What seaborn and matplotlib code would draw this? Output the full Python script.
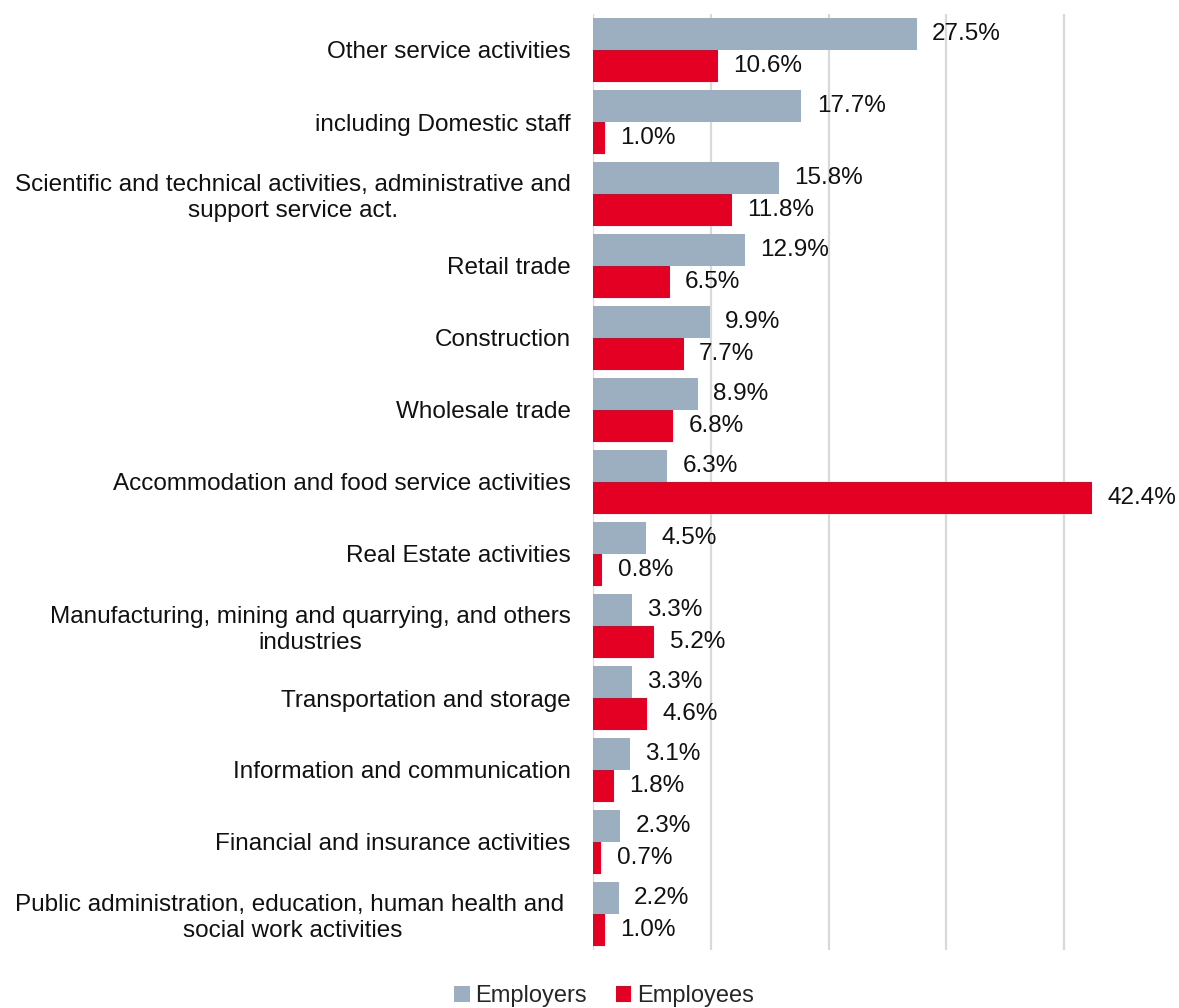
import matplotlib
matplotlib.use("Agg")
import matplotlib.pyplot as plt
from matplotlib.patches import Patch
import pandas as pd
import seaborn as sns

sectors = [
    "Other service activities",
    "including Domestic staff",
    "Scientific and technical activities, administrative and\nsupport service act.",
    "Retail trade",
    "Construction",
    "Wholesale trade",
    "Accommodation and food service activities",
    "Real Estate activities",
    "Manufacturing, mining and quarrying, and others\nindustries",
    "Transportation and storage",
    "Information and communication",
    "Financial and insurance activities",
    "Public administration, education, human health and \nsocial work activities",
]
employers = [27.5, 17.7, 15.8, 12.9, 9.9, 8.9, 6.3, 4.5, 3.3, 3.3, 3.1, 2.3, 2.2]
employees = [10.6, 1.0, 11.8, 6.5, 7.7, 6.8, 42.4, 0.8, 5.2, 4.6, 1.8, 0.7, 1.0]
series = ["Employers", "Employees"]
colors = ["#9BAFC1", "#E30022"]

df = pd.DataFrame({
    "sector": sectors * 2,
    "share": employers + employees,
    "group": [series[0]] * len(sectors) + [series[1]] * len(sectors),
})

sns.set_theme(style="white")
plt.rcParams["font.family"] = ["Liberation Sans", "DejaVu Sans"]

W, H = 1179, 1008
fig = plt.figure(figsize=(W / 100, H / 100), dpi=100)
ax = fig.add_axes([593 / W, (H - 950) / H, (W - 593) / W, 936 / H])

sns.barplot(data=df, y="sector", x="share", hue="group", orient="h",
            palette=colors, hue_order=series, order=sectors,
            width=0.88, saturation=1, legend=False, ax=ax, zorder=2,
            edgecolor="none")

ax.set_xlim(0, 49.75)
ax.set_ylim(len(sectors) - 0.5, -0.5)
ax.set_xticks([0, 10, 20, 30, 40])
ax.xaxis.grid(True, color="#D9D9D9", linewidth=1.6, zorder=0)
ax.set_axisbelow(True)
ax.tick_params(axis="x", bottom=False, labelbottom=False)
ax.tick_params(axis="y", left=False, length=0, pad=16, labelsize=17.5,
               labelcolor="#111111")
for lbl in ax.get_yticklabels():
    lbl.set_multialignment("center")
ax.set_xlabel("")
ax.set_ylabel("")
for s in ax.spines.values():
    s.set_visible(False)

for cont in ax.containers:
    ax.bar_label(cont, labels=[f"{v:.1f}%" for v in cont.datavalues],
                 padding=11, fontsize=17.5, color="#111111", clip_on=False)

handles = [Patch(facecolor=c, edgecolor="none", label=s) for c, s in zip(colors, series)]
fig.legend(handles=handles, loc="center", bbox_to_anchor=(604 / W, 0.0115), ncol=2,
           frameon=False, fontsize=17, handlelength=0.65, handleheight=0.65,
           handletextpad=0.25, columnspacing=1.2, borderpad=0.1)

fig.savefig("out.png", dpi=100)
